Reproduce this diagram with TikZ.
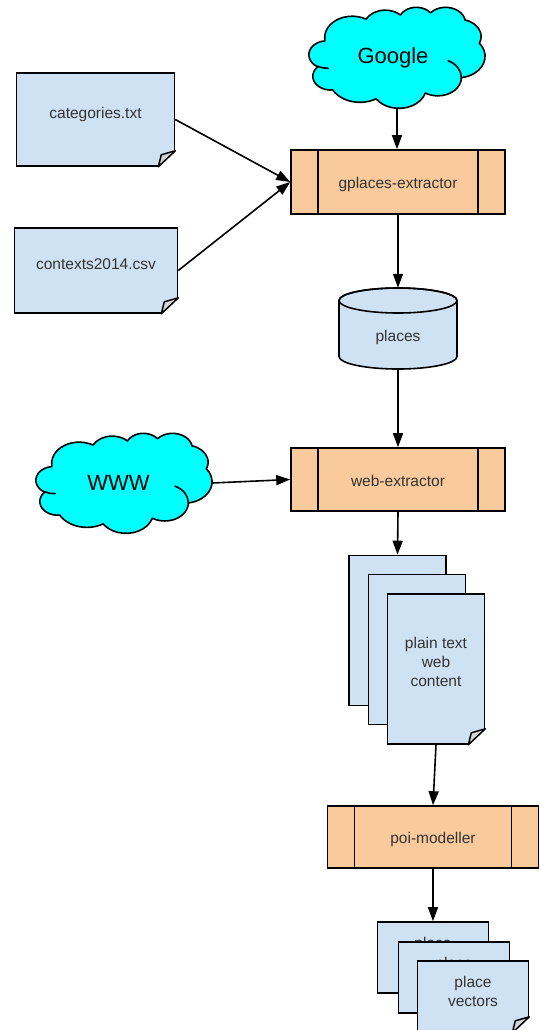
\documentclass[tikz,border=0pt]{standalone}
\usepackage{fontspec}
\setmainfont{Liberation Sans}
\usetikzlibrary{arrows.meta}
\definecolor{docblue}{HTML}{CFE2F3}
\definecolor{procorange}{HTML}{F9CB9C}
\definecolor{cloudcyan}{HTML}{00FFFF}
\definecolor{txtgray}{HTML}{333333}
\definecolor{foldgray}{HTML}{D0D6DC}
\newcommand{\foldcorner}[1]{%
  \fill[white] ([shift={(2pt,17.5pt)}]#1.south east) -- ([shift={(2pt,-2pt)}]#1.south east) -- ([shift={(-19pt,-2pt)}]#1.south east) -- cycle;
  \filldraw[fill=foldgray, line width=1.5pt, line join=round] ([yshift=16pt]#1.south east) -- ([shift={(-14pt,12pt)}]#1.south east) -- ([xshift=-17pt]#1.south east) -- cycle;
}
\tikzset{
  smalltext/.style={font=\fontsize{15.5}{19}\selectfont, text=txtgray},
  docbox/.style={rectangle, draw=black, fill=docblue, line width=1.6pt, inner sep=0pt, align=center, smalltext},
  procbox/.style={rectangle, draw=black, fill=procorange, line width=1.6pt, inner sep=0pt, smalltext,
    path picture={
      \draw[line width=1.6pt] ([xshift=27pt]path picture bounding box.north west) -- ([xshift=27pt]path picture bounding box.south west);
      \draw[line width=1.6pt] ([xshift=-27pt]path picture bounding box.north east) -- ([xshift=-27pt]path picture bounding box.south east);
    }},
  cloudtext/.style={rectangle, inner sep=0pt, font=\fontsize{22}{26}\selectfont, text=black},
  cloudline/.style={line width=1.6pt, line join=round, line cap=round},
  % arc of the preset cloud: wR, hR, start angle, sweep (visual angles, degrees)
  oa/.style n args={4}{x radius=#1, y radius=#2,
    start angle={atan2(#1*sin(#3),#2*cos(#3))},
    delta angle={mod(atan2(#1*sin(#3+#4),#2*cos(#3+#4))-atan2(#1*sin(#3),#2*cos(#3))+720,360)}},
  arr/.style={line width=1.6pt, -{Triangle[length=14pt,width=10pt]}},
}
% cloud outline: #1 left, #2 top, #3 width, #4 height
\newcommand{\drawcloud}[4]{%
  \begin{scope}[shift={(#1,#2)}, xscale=#3/432, yscale=#4/432]
    \filldraw[cloudline, fill=cloudcyan] (39.00,143.70)
      arc[oa={67.53}{91.90}{-190.48748}{123.78053}]
      arc[oa={53.33}{72.67}{-144.10238}{89.94523}]
      arc[oa={43.65}{59.45}{-145.80792}{99.72302}]
      arc[oa={48.57}{65.95}{-130.98607}{117.24173}]
      arc[oa={53.33}{72.73}{-78.70888}{109.02692}]
      arc[oa={67.75}{92.20}{-46.26725}{130.26900}]
      arc[oa={57.85}{78.67}{0.62502}{114.03333}]
      arc[oa={67.52}{92.15}{22.45160}{115.17255}]
      arc[oa={77.20}{105.43}{66.24263}{75.71102}]
      arc[oa={43.60}{59.18}{-274.94208}{146.73557}]
      arc[oa={43.45}{59.45}{-246.82850}{152.51885}]
      -- cycle;
    \draw[cloudline] (46.93,261.77) arc[oa={43.45}{59.45}{86.74200}{26.42950}];
    \draw[cloudline] (341.29,229.54) arc[oa={57.85}{78.67}{-70.29235}{70.91737}];
  \end{scope}%
}
\begin{document}
\begin{tikzpicture}[x=1pt, y=-1pt]
\useasboundingbox (0,0) rectangle (540,1030);

% Google cloud
\drawcloud{309}{7}{176}{101}
\node[cloudtext, minimum width=176pt, minimum height=101pt] (google) at (397,57.5) {\kern-8pt Google};

% input documents
\node[docbox, minimum width=158pt, minimum height=93pt] (cat) at (95.5,119.5) {\raisebox{1.5pt}[0pt][0pt]{categories.txt}};
\foldcorner{cat}
\node[docbox, minimum width=163pt, minimum height=85pt] (ctx) at (96,270.5) {\raisebox{1pt}[0pt][0pt]{contexts2014.csv}};
\foldcorner{ctx}

% gplaces-extractor
\node[procbox, minimum width=214pt, minimum height=64pt] (gplaces) at (398,182) {\raisebox{-6.3pt}[0pt][0pt]{gplaces-extractor}};

% places database (cylinder)
\filldraw[fill=docblue, line width=1.6pt] (339,300.5) -- (339,356.5) arc[start angle=180, end angle=0, x radius=59, y radius=12.5] -- (457,300.5) arc[start angle=0, end angle=-180, x radius=59, y radius=12.5] -- cycle;
\draw[line width=1.6pt] (398,300.5) ellipse[x radius=59, y radius=12.5];
\node[smalltext, minimum width=118pt, minimum height=81pt, inner sep=0pt] (places) at (398,328.5) {\raisebox{-13pt}[0pt][0pt]{places}};

% WWW cloud
\drawcloud{36}{433}{176}{100}
\node[cloudtext, minimum width=176pt, minimum height=100pt] (www) at (124,483) {\kern-11pt WWW};

% web-extractor
\node[procbox, minimum width=214pt, minimum height=63pt] (web) at (398,479.5) {\raisebox{-7pt}[0pt][0pt]{web-extractor}};

% plain text web content stack
\node[docbox, minimum width=97pt, minimum height=150pt] (wc1) at (397.5,630.5) {};
\node[docbox, minimum width=97pt, minimum height=150pt] (wc2) at (417,649.5) {};
\node[docbox, minimum width=97pt, minimum height=150pt] (wc3) at (436,669) {\raisebox{2pt}[0pt][0pt]{\begin{tabular}{@{}c@{}}plain text\\web\\content\end{tabular}}};
\foldcorner{wc3}

% poi-modeller
\node[procbox, minimum width=211pt, minimum height=62pt] (poi) at (433,837) {\raisebox{-6pt}[0pt][0pt]{poi-modeller}};

% place vectors stack
\node[docbox, minimum width=111pt, minimum height=71pt] (pv1) at (433,957.5) {\raisebox{0pt}[0pt][0pt]{\begin{tabular}{@{}c@{}}place\\vectors\end{tabular}}};
\node[docbox, minimum width=111pt, minimum height=71pt] (pv2) at (454,977.5) {\raisebox{0pt}[0pt][0pt]{\begin{tabular}{@{}c@{}}place\\vectors\end{tabular}}};
\node[docbox, minimum width=111pt, minimum height=71pt] (pv3) at (473,996.5) {\raisebox{0pt}[0pt][0pt]{\begin{tabular}{@{}c@{}}place\\vectors\end{tabular}}};
\foldcorner{pv3}

% connectors
\draw[arr] (google.south) -- (google.south |- gplaces.north);
\draw[arr] (cat.east) -- (gplaces.west);
\draw[arr] (ctx.east) -- (gplaces.west);
\draw[arr] (gplaces.south) -- (places.north);
\draw[arr] (places.south) -- (web.north);
\draw[arr] (www.east) -- (web.west);
\draw[arr] (web.south) -- (wc1.north);
\draw[arr] (wc3.south) -- (poi.north);
\draw[arr] (poi.south) -- (pv1.north);
\end{tikzpicture}
\end{document}
